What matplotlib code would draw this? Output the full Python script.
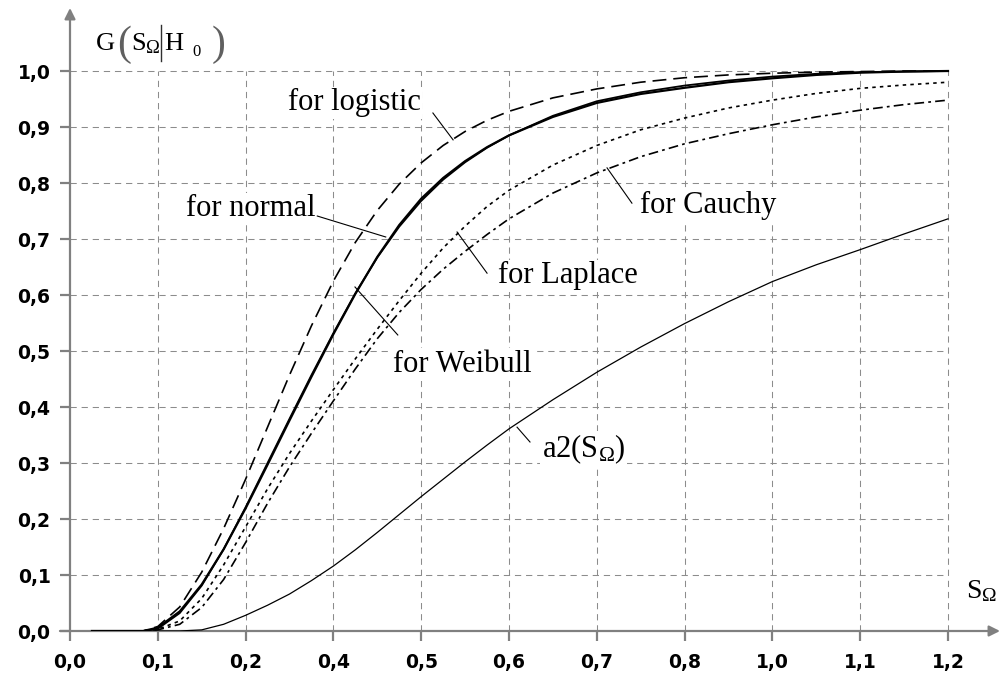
import numpy as np
import matplotlib
matplotlib.use("Agg")
import matplotlib.pyplot as plt

s = [0.03, 0.10, 0.12, 0.15, 0.18, 0.21, 0.24, 0.27, 0.30, 0.33, 0.36, 0.39, 0.42, 0.45,
     0.48, 0.51, 0.54, 0.57, 0.60, 0.66, 0.72, 0.78, 0.84, 0.90, 0.96, 1.02, 1.08, 1.14, 1.20]

g_normal = [0, 0, 0.006, 0.035, 0.083, 0.146, 0.219, 0.297, 0.376, 0.454, 0.530, 0.602, 0.668, 0.725,
            0.772, 0.809, 0.839, 0.864, 0.885, 0.918, 0.943, 0.959, 0.970, 0.980, 0.987, 0.993, 0.997, 0.999, 1.0]
g_weibull = [0, 0, 0.004, 0.032, 0.081, 0.146, 0.221, 0.300, 0.379, 0.457, 0.532, 0.603, 0.667, 0.722,
             0.768, 0.806, 0.837, 0.863, 0.885, 0.920, 0.946, 0.962, 0.974, 0.983, 0.990, 0.995, 0.998, 0.999, 1.0]
g_logistic = [0, 0, 0.008, 0.043, 0.105, 0.183, 0.271, 0.364, 0.457, 0.545, 0.625, 0.694, 0.751, 0.798,
              0.836, 0.867, 0.892, 0.912, 0.928, 0.952, 0.968, 0.980, 0.988, 0.993, 0.996, 0.998, 0.999, 1.0, 1.0]
g_laplace = [0, 0, 0.003, 0.018, 0.058, 0.118, 0.186, 0.254, 0.317, 0.375, 0.431, 0.486, 0.539, 0.590,
             0.639, 0.684, 0.723, 0.758, 0.787, 0.832, 0.867, 0.895, 0.916, 0.934, 0.948, 0.960, 0.969, 0.975, 0.980]
g_cauchy = [0, 0, 0.002, 0.012, 0.042, 0.092, 0.158, 0.228, 0.293, 0.353, 0.411, 0.468, 0.522, 0.569,
            0.610, 0.646, 0.678, 0.708, 0.736, 0.782, 0.818, 0.847, 0.870, 0.888, 0.904, 0.918, 0.930, 0.940, 0.948]
a2 = [0, 0, 0, 0, 0.002, 0.012, 0.028, 0.046, 0.066, 0.090, 0.116, 0.145, 0.176, 0.208,
      0.240, 0.271, 0.302, 0.332, 0.361, 0.413, 0.462, 0.507, 0.549, 0.588, 0.624, 0.654, 0.681, 0.709, 0.736]

## axis ticks, x labels are rounded like in the original
x_ticks = [0.0, 0.12, 0.24, 0.36, 0.48, 0.60, 0.72, 0.84, 0.96, 1.08, 1.20]
x_labels = ["0,0", "0,1", "0,2", "0,4", "0,5", "0,6", "0,7", "0,8", "1,0", "1,1", "1,2"]
y_ticks = [0.0, 0.1, 0.2, 0.3, 0.4, 0.5, 0.6, 0.7, 0.8, 0.9, 1.0]
y_labels = ["0,0", "0,1", "0,2", "0,3", "0,4", "0,5", "0,6", "0,7", "0,8", "0,9", "1,0"]

plt.rcParams['lines.scale_dashes'] = False
plt.rcParams['mathtext.fontset'] = 'custom'
plt.rcParams['mathtext.rm'] = 'Liberation Serif'
plt.rcParams['mathtext.it'] = 'Liberation Serif:italic'

W, H = 1002, 679
fig = plt.figure(figsize=(W / 100, H / 100), dpi=100)
ax = fig.add_axes([70 / W, 48 / H, 930 / W, 623 / H])
ax.set_xlim(0, 1.2 * 930 / 878)
ax.set_ylim(0, 623 / 560)
for sp in ax.spines.values():
    sp.set_visible(False)

axis_grey = '#808080'
grid_grey = '#8c8c8c'

# grid, only inside the 0..1.2 x 0..1 box
for x in x_ticks[1:]:
    ax.plot([x, x], [0, 1.0], color=grid_grey, lw=0.75, ls=(0, (4.5, 3.5)), zorder=1)
for y in y_ticks[1:]:
    ax.plot([0, 1.2], [y, y], color=grid_grey, lw=0.75, ls=(0, (4.5, 3.5)), zorder=1)

# axes with arrows
arrow = dict(arrowstyle='-|>', color=axis_grey, lw=1.6, mutation_scale=16, shrinkA=0, shrinkB=0)
ax.annotate('', xy=(1.0, 0), xycoords=('axes fraction', 'data'),
            xytext=(-0.0108, 0), textcoords=('axes fraction', 'data'), arrowprops=arrow, zorder=2)
ax.annotate('', xy=(0, 1.0), xycoords=('data', 'axes fraction'),
            xytext=(0, 0), textcoords=('data', 'data'), arrowprops=arrow, zorder=2)

ax.set_xticks(x_ticks)
ax.set_xticklabels(x_labels)
ax.set_yticks(y_ticks)
ax.set_yticklabels(y_labels)
ax.tick_params(axis='both', direction='out', length=7, width=1.6, color=axis_grey,
               labelsize=13.5)
ax.tick_params(axis='x', pad=9)
ax.tick_params(axis='y', pad=7)
for lab in ax.get_xticklabels() + ax.get_yticklabels():
    lab.set_fontweight('bold')
    lab.set_family('DejaVu Sans')

# curves
ax.plot(s, g_logistic, color='black', lw=1.2, ls=(0, (10, 5)), zorder=4)
ax.plot(s, g_normal, color='black', lw=1.6, zorder=4)
ax.plot(s, g_weibull, color='black', lw=1.3, zorder=4)
ax.plot(s, g_laplace, color='black', lw=1.2, ls=(0, (2.5, 3)), zorder=4)
ax.plot(s, g_cauchy, color='black', lw=1.2, ls=(0, (7, 3, 2, 3)), zorder=4)
ax.plot(s, a2, color='black', lw=0.9, zorder=4)

## labels with leader lines
serif = 'Liberation Serif'
fs = 22
box = dict(facecolor='white', edgecolor='none', pad=1)
labels = [
    ("for logistic", 0.298, 0.930, (0.496, 0.925), (0.5236, 0.877)),
    ("for normal", 0.1585, 0.741, (0.338, 0.741), (0.4315, 0.7036)),
    ("for Laplace", 0.585, 0.621, (0.570, 0.639), (0.529, 0.7125)),
    ("for Cauchy", 0.779, 0.746, (0.768, 0.764), (0.734, 0.827)),
    ("for Weibull", 0.4415, 0.4625, (0.448, 0.5286), (0.3895, 0.6143)),
    (r"a2(S$_{\Omega}$)", 0.645, 0.311, (0.6287, 0.3375), (0.611, 0.364)),
]
for txt, tx, ty, p0, p1 in labels:
    ax.text(tx, ty, txt, family=serif, fontsize=fs, va='baseline', ha='left',
            bbox=box, zorder=3)
    ax.plot([p0[0], p1[0]], [p0[1], p1[1]], color='black', lw=0.8, zorder=5)

# x axis name at the arrow
fig.text(966 / W, 1 - 598 / H, r"S$_{\Omega}$", family=serif, fontsize=20, va='baseline', ha='left')

# y axis name G(S|H0), pieces placed by pixel
def px_text(x, y, t, size, **kw):
    fig.text(x / W, 1 - y / H, t, family=serif, fontsize=size, va='baseline', ha='left', **kw)

px_text(96, 50, "G", 19)
px_text(117, 55, "(", 30, color='#606060')
px_text(131, 50, r"S$_{\Omega}$", 19)
px_text(164, 50, "H", 19)
px_text(192, 56, "0", 12)
px_text(212, 55, ")", 30, color='#606060')
fig.add_artist(plt.Line2D([161 / W, 161 / W], [1 - 61 / H, 1 - 25 / H], color='#303030', lw=1.0))

fig.savefig("out.png", dpi=100)
